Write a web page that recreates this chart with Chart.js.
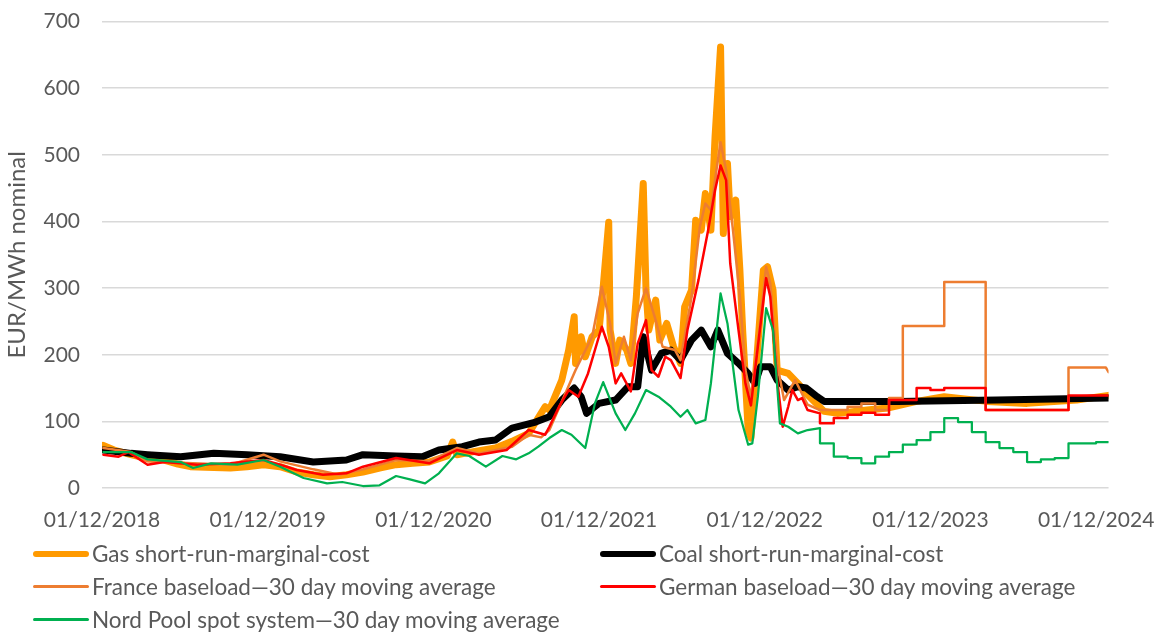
<!DOCTYPE html>
<html>
<head>
<meta charset="utf-8">
<script src="https://cdn.jsdelivr.net/npm/chart.js@4.4.1/dist/chart.umd.min.js"></script>
<style>
  body { margin: 0; background: #fff; font-family: Lato, sans-serif; }
  #wrap { position: relative; width: 1167px; height: 632px; overflow: hidden; }
  #chart { position: absolute; left: 0; top: -13px; }
  #legend {
    position: absolute; left: 33px; top: 537px;
    display: grid; grid-template-columns: 567px 560px; grid-auto-rows: 33px;
    color: #595959; font-size: 22.5px;
  }
  .item { display: flex; align-items: center; white-space: nowrap; }
  .swatch { width: 56px; margin-right: 3px; border-radius: 4px; }
</style>
</head>
<body>
<div id="wrap">
  <canvas id="chart" width="1167" height="553"></canvas>
  <div id="legend"></div>
</div>
<script>
// x = months since 01/12/2018, y = EUR/MWh
const xTickLabels = ['01/12/2018', '01/12/2019', '01/12/2020', '01/12/2021', '01/12/2022', '01/12/2023', '01/12/2024'];
const yTicks = [0, 100, 200, 300, 400, 500, 600, 700];

const gasSrmc = [
  [0.1,64],[1,56],[2.1,50],[3.3,44],[4.5,42],[5.5,36],[6.4,32],[7.5,31],[9.3,30],[10.5,32],[11.7,35],[12.9,32],
  [14.1,24],[15.3,20],[16.5,17],[17.7,20],[18.9,24],[20.1,30],[21.3,35],[22.5,37],[23.7,39],[25.0,48],[25.4,69],
  [25.7,50],[27.0,55],[28.5,60],[29.7,70],[30.9,82],[32.1,122],[32.4,117],[33.3,162],[33.8,207],[34.2,257],
  [34.3,187],[34.7,227],[35.0,197],[35.5,227],[36.0,237],[36.3,302],[36.7,399],[36.8,237],[37.2,187],[37.5,222],
  [38.0,207],[38.3,187],[38.7,287],[39.2,457],[39.4,297],[39.6,237],[40.1,282],[40.4,222],[40.9,247],[41.4,212],
  [41.9,187],[42.2,272],[42.7,297],[43.0,402],[43.4,387],[43.7,442],[44.1,387],[44.4,527],[44.8,662],[45.0,382],
  [45.3,487],[45.5,407],[45.9,432],[46.2,327],[46.4,237],[46.8,87],[47.0,75],[47.4,187],[47.9,327],[48.2,332],
  [48.6,297],[48.9,177],[49.7,172],[50.4,157],[51.1,140],[52.3,115],[53.3,112],[55.4,117],[56.9,120],[59.0,130],
  [61.0,137],[64.1,130],[67.0,127],[70.6,132],[72.9,139]
];
const coalSrmc = [
  [0.1,57],[2.1,52],[3.3,50],[5.7,47],[8.1,52],[10.5,50],[12.9,47],[15.3,39],[17.7,42],[18.9,50],[21.3,48],
  [23.2,47],[24.4,57],[26.1,62],[27.3,69],[28.5,72],[29.7,90],[31.4,99],[32.4,107],[33.3,132],[34.2,150],
  [34.7,137],[35.1,112],[36.0,127],[37.2,132],[38.1,152],[38.8,152],[39.2,227],[39.8,177],[40.5,202],[41.2,207],
  [41.9,192],[42.7,222],[43.4,237],[44.1,212],[44.6,237],[45.3,202],[46.1,187],[46.8,172],[47.3,157],[47.7,182],
  [48.4,182],[48.9,162],[49.7,147],[50.4,152],[51.0,150],[51.8,137],[52.3,130],[57.6,130],[64.8,132],[72.9,135]
];
const franceBase = [
  [0.1,60],[2.1,54],[3.3,40],[5.7,38],[9.3,35],[11.7,50],[12.9,40],[15.3,28],[17.2,20],[18.9,28],[21.3,42],
  [23.7,40],[25.7,60],[27.3,52],[29.7,62],[30.9,80],[31.8,76],[32.4,87],[34.3,177],[35.5,227],[36.2,302],
  [36.8,247],[37.2,187],[37.8,227],[38.3,192],[38.8,262],[39.4,300],[40.1,252],[40.6,212],[41.5,207],[41.9,192],
  [42.7,287],[43.3,392],[43.7,427],[44.1,417],[44.5,477],[44.8,519],[45.2,477],[45.7,387],[46.2,287],[46.6,177],
  [47.0,137],[47.6,237],[48.1,332],[48.4,307],[48.9,187],[49.4,132],[50.2,162],[51.1,125],[52,117],[54,117],
  [54,122],[55,122],[55,127],[56,127],[56,117],[57,117],[57,135],[58,135],[58,243],[61,243],[61,309],[64,309],
  [64,117],[70,117],[70,181],[72.7,181],[72.9,174]
];
const germanBase = [
  [0.1,50],[1.2,47],[1.9,54],[3.3,35],[4.5,39],[6.9,35],[9.3,37],[11.7,42],[12.9,35],[14.1,27],[16.0,20],
  [17.7,22],[18.9,32],[21.3,45],[23.7,37],[25.7,57],[27.3,50],[29.3,57],[30.9,87],[32.1,80],[32.4,92],[33.1,122],
  [33.8,147],[34.5,137],[35.2,172],[36.2,242],[36.7,212],[37.2,157],[37.6,172],[38.3,145],[38.8,217],[39.4,252],
  [39.8,177],[40.3,167],[40.8,197],[41.2,192],[41.9,165],[42.4,237],[43.2,312],[43.9,387],[44.4,447],[44.8,484],
  [45.2,462],[45.5,337],[46.1,237],[46.6,157],[47.0,124],[47.5,212],[48.1,315],[48.4,287],[48.9,162],[49.3,92],
  [49.7,122],[50.0,147],[50.4,132],[50.7,135],[51.1,117],[52,112],[52,97],[53,97],[53,105],[54,105],[54,110],
  [55,110],[55,113],[56,113],[56,110],[57,110],[57,132],[59,132],[59,150],[60,150],[60,147],[61,147],[61,150],
  [64,150],[64,117],[70,117],[70,139],[72.9,139]
];
const nordPool = [
  [0.1,54],[2.1,54],[3.3,43],[5.7,39],[6.6,30],[7.9,37],[9.8,35],[11.7,42],[12.9,32],[14.6,15],[16.3,7],
  [17.4,9],[18.9,3],[20.1,4],[21.3,18],[22.3,13],[23.4,7],[24.4,22],[25.7,52],[26.6,48],[27.8,32],[29.0,48],
  [30.0,43],[30.9,52],[31.6,62],[32.4,75],[33.3,87],[34.0,80],[35.0,60],[35.7,127],[36.3,159],[37.2,112],
  [37.9,87],[38.6,112],[39.4,147],[40.3,137],[41.2,122],[41.9,107],[42.4,117],[43.0,97],[43.7,102],[44.1,157],
  [44.8,292],[45.3,247],[46.1,117],[46.8,65],[47.1,67],[47.5,137],[48.1,270],[48.6,237],[49.1,97],[49.7,92],
  [50.4,82],[51.1,87],[52,90],[52,67],[53,67],[53,47],[54,47],[54,45],[55,45],[55,37],[56,37],[56,47],[57,47],
  [57,54],[58,54],[58,65],[59,65],[59,72],[60,72],[60,84],[61,84],[61,105],[62,105],[62,99],[63,99],[63,84],
  [64,84],[64,69],[65,69],[65,60],[66,60],[66,54],[67,54],[67,39],[68,39],[68,43],[69,43],[69,45],[70,45],
  [70,67],[72,67],[72,69],[72.9,69]
];

const series = [
  { label: 'Gas short-run-marginal-cost', data: gasSrmc, color: '#FF9A00', width: 7, order: 5 },
  { label: 'Coal short-run-marginal-cost', data: coalSrmc, color: '#000000', width: 7, order: 4 },
  { label: 'France baseload\u201430 day moving average', data: franceBase, color: '#ED7D31', width: 2.5, order: 3 },
  { label: 'German baseload\u201430 day moving average', data: germanBase, color: '#FF0000', width: 2.5, order: 2 },
  { label: 'Nord Pool spot system\u201430 day moving average', data: nordPool, color: '#00B050', width: 2.25, order: 1 },
];

function buildLegend() {
  const box = document.getElementById('legend');
  box.innerHTML = series.map(s => `
    <div class="item"><span class="swatch" style="height:${s.width > 3 ? 6 : 2.5}px;background:${s.color}"></span>${s.label}</div>
  `).join('');
}

function draw() {
  const ctx = document.getElementById('chart').getContext('2d');
  Chart.defaults.font.family = 'Lato, sans-serif';
  Chart.defaults.color = '#595959';

  new Chart(ctx, {
    type: 'line',
    data: {
      datasets: series.map(s => ({
        label: s.label,
        data: s.data.map(([x, y]) => ({ x, y })),
        borderColor: s.color,
        backgroundColor: s.color,
        borderWidth: s.width,
        borderCapStyle: 'round',
        borderJoinStyle: 'round',
        pointRadius: 0,
        tension: 0,
        fill: false,
        order: s.order,
      })),
    },
    options: {
      responsive: false,
      animation: false,
      layout: { padding: { top: 0, right: 54, left: 0, bottom: 0 } },
      plugins: { legend: { display: false }, tooltip: { enabled: false } },
      scales: {
        x: {
          type: 'linear',
          min: 0,
          max: 72.9,
          grid: { display: false },
          border: { display: false },
          afterFit: s => { s.height = 52; },
          afterBuildTicks: s => { s.ticks = xTickLabels.map((_, i) => ({ value: i * 12 })); },
          ticks: {
            autoSkip: false,
            maxRotation: 0,
            padding: 12,
            font: { size: 21 },
            callback: v => xTickLabels[Math.round(v / 12)],
          },
        },
        y: {
          min: 0,
          max: 700,
          afterFit: s => { s.width = 102; },
          afterBuildTicks: s => { s.ticks = yTicks.map(v => ({ value: v })); },
          grid: { color: '#D9D9D9', lineWidth: 1.5, drawTicks: false },
          border: { display: false },
          ticks: { padding: 22, font: { size: 21 } },
          title: { display: true, text: 'EUR/MWh nominal', font: { size: 24 }, padding: { top: 3, bottom: 3 } },
        },
      },
    },
  });
  buildLegend();
}

if (document.fonts && document.fonts.load) {
  document.fonts.load('21px Lato').then(draw, draw);
} else {
  draw();
}
</script>
</body>
</html>
